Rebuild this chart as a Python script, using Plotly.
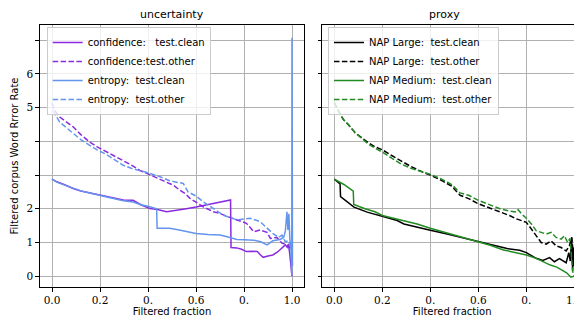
import plotly.graph_objects as go

# ---------------- data ----------------
conf_clean_x = [0, 0.02, 0.05, 0.088, 0.12, 0.157, 0.2, 0.227, 0.26, 0.297, 0.338, 0.37, 0.408, 0.44, 0.478, 0.5, 0.53, 0.56, 0.6, 0.645, 0.68, 0.70, 0.73, 0.744, 0.746, 0.77, 0.79, 0.81, 0.835, 0.855, 0.87, 0.88, 0.9, 0.92, 0.94, 0.958, 0.972, 0.98, 0.985, 0.99, 0.995, 1.0]
conf_clean_y = [2.88, 2.8, 2.72, 2.6, 2.53, 2.47, 2.41, 2.36, 2.31, 2.26, 2.25, 2.12, 2.01, 1.98, 1.91, 1.93, 1.97, 2.0, 2.05, 2.11, 2.16, 2.18, 2.22, 2.26, 0.85, 0.84, 0.8, 0.73, 0.74, 0.73, 0.62, 0.56, 0.6, 0.63, 0.72, 0.83, 0.93, 0.86, 0.95, 0.7, 0.3, 0.0]

conf_other_x = [0, 0.011, 0.032, 0.06, 0.088, 0.12, 0.157, 0.19, 0.227, 0.26, 0.297, 0.33, 0.366, 0.408, 0.45, 0.505, 0.533, 0.555, 0.575, 0.6, 0.63, 0.672, 0.7, 0.735, 0.77, 0.81, 0.825, 0.84, 0.867, 0.896, 0.91, 0.937, 0.958, 0.979, 0.99, 1.0]
conf_other_y = [5.13, 4.92, 4.72, 4.57, 4.43, 4.2, 3.98, 3.83, 3.69, 3.57, 3.44, 3.3, 3.14, 3.0, 2.88, 2.7, 2.55, 2.45, 2.31, 2.2, 2.06, 1.91, 1.86, 1.76, 1.67, 1.57, 1.45, 1.32, 1.37, 1.3, 1.12, 1.15, 0.98, 0.93, 0.85, 0.95]

ent_clean_x = [0, 0.02, 0.05, 0.088, 0.12, 0.157, 0.2, 0.227, 0.26, 0.297, 0.338, 0.37, 0.408, 0.43, 0.436, 0.438, 0.49, 0.53, 0.6, 0.65, 0.70, 0.73, 0.77, 0.8, 0.84, 0.87, 0.896, 0.92, 0.95, 0.965, 0.972, 0.979, 0.983, 0.987, 0.991, 0.996, 0.999, 1.0, 1.002]
ent_clean_y = [2.88, 2.79, 2.71, 2.6, 2.53, 2.47, 2.4, 2.35, 2.3, 2.24, 2.2, 2.12, 2.06, 2.03, 2.0, 1.42, 1.42, 1.37, 1.27, 1.24, 1.22, 1.17, 1.09, 1.08, 1.07, 1.02, 0.93, 1.05, 1.09, 1.15, 1.32, 1.91, 1.37, 1.85, 1.1, 0.78, 0.03, 7.07, 0.3]

ent_other_x = [0, 0.011, 0.032, 0.06, 0.088, 0.12, 0.157, 0.19, 0.227, 0.26, 0.297, 0.33, 0.366, 0.408, 0.45, 0.49, 0.547, 0.567, 0.6, 0.63, 0.67, 0.714, 0.77, 0.826, 0.867, 0.896, 0.92, 0.944, 0.958, 0.972, 0.985, 0.993, 1.0]
ent_other_y = [5.15, 4.82, 4.57, 4.4, 4.23, 4.05, 3.88, 3.74, 3.61, 3.45, 3.29, 3.2, 3.14, 3.05, 2.95, 2.83, 2.75, 2.5, 2.38, 2.21, 2.02, 1.81, 1.67, 1.72, 1.62, 1.42, 1.27, 1.15, 1.22, 1.02, 1.05, 0.9, 1.0]

napl_clean_x = [0, 0.015, 0.024, 0.026, 0.05, 0.082, 0.137, 0.2, 0.262, 0.29, 0.345, 0.4, 0.47, 0.539, 0.6, 0.677, 0.72, 0.772, 0.8, 0.841, 0.869, 0.897, 0.917, 0.938, 0.955, 0.966, 0.977, 0.983, 0.989, 0.993, 0.997, 1.0]
napl_clean_y = [2.88, 2.8, 2.74, 2.36, 2.22, 2.05, 1.9, 1.77, 1.65, 1.55, 1.45, 1.36, 1.25, 1.13, 1.03, 0.88, 0.82, 0.77, 0.7, 0.53, 0.47, 0.55, 0.43, 0.52, 0.45, 0.4, 0.7, 0.45, 1.15, 0.15, 0.85, 0.3]

napl_other_x = [0, 0.017, 0.0375, 0.058, 0.086, 0.114, 0.142, 0.169, 0.2, 0.239, 0.28, 0.32, 0.364, 0.4, 0.447, 0.489, 0.524, 0.56, 0.6, 0.65, 0.69, 0.73, 0.759, 0.8, 0.821, 0.841, 0.862, 0.883, 0.903, 0.924, 0.945, 0.966, 0.979, 0.989, 0.995, 1.0]
napl_other_y = [5.15, 4.9, 4.65, 4.5, 4.26, 4.1, 3.96, 3.84, 3.75, 3.58, 3.4, 3.25, 3.1, 3.0, 2.84, 2.67, 2.4, 2.3, 2.15, 2.02, 1.9, 1.8, 1.7, 1.6, 1.4, 1.2, 1.0, 0.95, 1.05, 0.9, 0.85, 0.75, 0.9, 1.15, 0.6, 0.4]

napm_clean_x = [0, 0.04, 0.079, 0.081, 0.128, 0.17, 0.2, 0.276, 0.345, 0.4, 0.45, 0.511, 0.6, 0.65, 0.705, 0.77, 0.8, 0.841, 0.871, 0.9, 0.927, 0.95, 0.968, 0.986, 1.0]
napm_clean_y = [2.88, 2.72, 2.52, 2.13, 2.0, 1.91, 1.8, 1.66, 1.55, 1.42, 1.32, 1.2, 1.03, 0.92, 0.78, 0.68, 0.63, 0.53, 0.42, 0.33, 0.27, 0.18, 0.1, -0.03, 0.0]

napm_other_x = [0, 0.017, 0.0375, 0.058, 0.086, 0.114, 0.142, 0.169, 0.2, 0.239, 0.28, 0.32, 0.364, 0.4, 0.447, 0.489, 0.524, 0.56, 0.6, 0.65, 0.69, 0.73, 0.759, 0.766, 0.78, 0.8, 0.821, 0.841, 0.862, 0.883, 0.903, 0.924, 0.945, 0.959, 0.972, 0.982, 0.993, 1.0]
napm_other_y = [5.15, 4.9, 4.65, 4.5, 4.26, 4.08, 3.92, 3.8, 3.68, 3.5, 3.32, 3.2, 3.1, 3.02, 2.88, 2.72, 2.47, 2.4, 2.25, 2.12, 2.0, 1.93, 1.9, 1.97, 1.85, 1.72, 1.55, 1.35, 1.3, 1.25, 1.3, 1.15, 1.1, 1.2, 1.0, 1.12, 0.15, 0.0]

x_tickvals = [0.0, 0.2, 0.4, 0.6, 0.8, 1.0]
x_ticktext = ["0.0", "0.2", "0.", "0.6", "0.", "1.0"]
y_tickvals = [0, 1, 2, 3, 4, 5, 6, 7]
y_ticktext = ["0", "1", "2", "", "", "5", "6", ""]

# ---------------- figure ----------------
PURPLE = "#8a2be2"
BLUE = "#6495ed"
GREEN = "#228b22"
BLACK = "#000000"
DASH = "5.5px,2.4px"
LW = 1.5
SANS = "DejaVu Sans"
SERIF = "DejaVu Serif"

fig = go.Figure()

def add(x, y, name, color, dash, xa, ya, legend):
    fig.add_trace(go.Scatter(
        x=x, y=y, name=name, mode="lines",
        line=dict(color=color, width=LW, dash=dash),
        xaxis=xa, yaxis=ya, legend=legend))

add(conf_clean_x, conf_clean_y, "confidence:   test.clean", PURPLE, "solid", "x", "y", "legend")
add(conf_other_x, conf_other_y, "confidence:test.other", PURPLE, DASH, "x", "y", "legend")
add(ent_clean_x, ent_clean_y, "entropy:  test.clean", BLUE, "solid", "x", "y", "legend")
add(ent_other_x, ent_other_y, "entropy:  test.other", BLUE, DASH, "x", "y", "legend")

add(napl_clean_x, napl_clean_y, "NAP Large:  test.clean", BLACK, "solid", "x2", "y2", "legend2")
add(napl_other_x, napl_other_y, "NAP Large:  test.other", BLACK, DASH, "x2", "y2", "legend2")
add(napm_clean_x, napm_clean_y, "NAP Medium:  test.clean", GREEN, "solid", "x2", "y2", "legend2")
add(napm_other_x, napm_other_y, "NAP Medium:  test.other", GREEN, DASH, "x2", "y2", "legend2")

# the page body adds an 8px offset; work in page pixels and subtract it
OFF = 8
W, H = 582 - OFF, 319 - OFF
ML, MR, MT, MB = 40 - OFF, 0, 25 - OFF, 32
PW = W - ML - MR
PH = H - MT - MB

L1 = (304 - 40) / PW
R0 = (322.3 - 40) / PW

axis_common = dict(
    showline=True, linecolor="black", linewidth=1.2, mirror=True,
    showgrid=True, gridcolor="#b0b0b0", gridwidth=0.8,
    ticks="outside", ticklen=3.5, tickcolor="black", tickwidth=1,
    zeroline=False, ticklabeloverflow="allow",
    tickfont=dict(family=SERIF, size=10.5, color="black"),
)

leg_common = dict(xanchor="left", yanchor="top",
                  bgcolor="rgba(255,255,255,0.8)", bordercolor="#cccccc", borderwidth=1,
                  font=dict(family=SANS, size=10), tracegroupgap=0, itemwidth=30)

fig.update_layout(
    width=W, height=H,
    margin=dict(l=ML, r=MR, t=MT, b=MB, pad=0),
    paper_bgcolor="white", plot_bgcolor="white",
    font=dict(family=SANS, size=10, color="black"),
    showlegend=True,
    xaxis=dict(domain=[0, L1], range=[-0.05, 1.05],
               tickvals=x_tickvals, ticktext=x_ticktext,
               title=dict(text="Filtered fraction", font=dict(family=SANS, size=10), standoff=1),
               **axis_common),
    xaxis2=dict(domain=[R0, 1.0], range=[-0.05, 1.032],
                tickvals=x_tickvals, ticktext=x_ticktext,
                title=dict(text="Filtered fraction", font=dict(family=SANS, size=10), standoff=1),
                anchor="y2", **axis_common),
    yaxis=dict(domain=[0, 1], range=[-0.32, 7.45],
               tickvals=y_tickvals, ticktext=y_ticktext,
               title=dict(text="Filtered corpus Word Rrror Rate", font=dict(family=SANS, size=10), standoff=6),
               **axis_common),
    yaxis2=dict(domain=[0, 1], range=[-0.32, 7.45], anchor="x2",
                tickvals=y_tickvals, showticklabels=False,
                **axis_common),
    legend=dict(x=(46.7 - 40) / PW, y=1 - (27 - 25) / PH, **leg_common),
    legend2=dict(x=(328 - 40) / PW, y=1 - (27 - 25) / PH, **leg_common),
    annotations=[
        dict(text="uncertainty", x=L1 / 2, y=1, xref="paper", yref="paper",
             xanchor="center", yanchor="bottom", yshift=2, showarrow=False,
             font=dict(family=SANS, size=11)),
        dict(text="proxy", x=(R0 + 1.0) / 2 - 0.015, y=1, xref="paper", yref="paper",
             xanchor="center", yanchor="bottom", yshift=2, showarrow=False,
             font=dict(family=SANS, size=11)),
    ],
)

fig.write_html("out.html")
